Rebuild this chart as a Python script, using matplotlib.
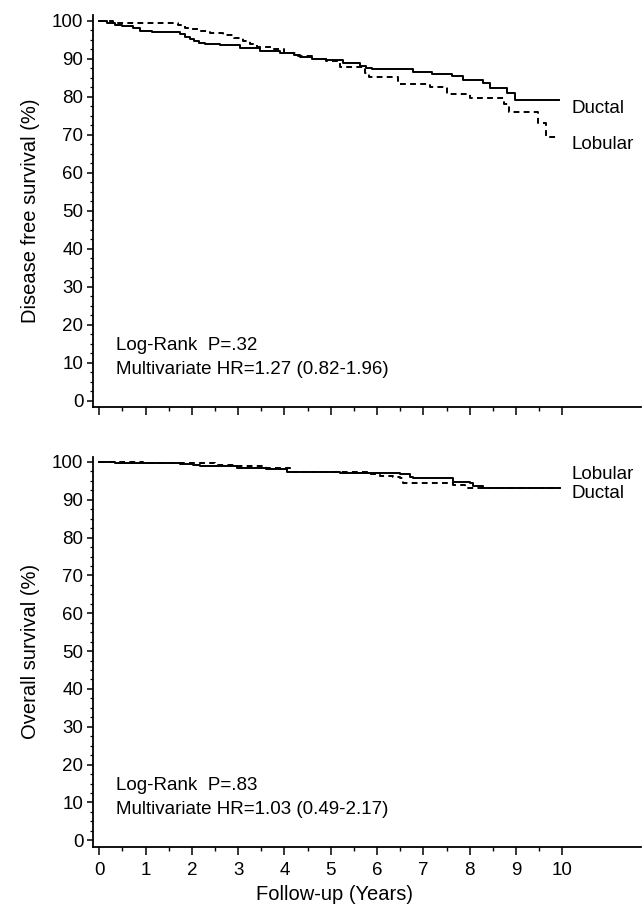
import matplotlib
matplotlib.use("Agg")
import matplotlib.pyplot as plt
from matplotlib.ticker import MultipleLocator

plt.rcParams['font.family'] = ['Liberation Sans', 'DejaVu Sans']

# ---- Data ----
dfs_ductal_t = [0, 0.16, 0.34, 0.5, 0.73, 0.88, 1.13, 1.74, 1.85, 1.95, 2.05, 2.15, 2.28, 2.6,
                3.04, 3.47, 3.9, 4.2, 4.34, 4.6, 4.9, 5.27, 5.64, 5.75, 5.9, 6.78, 7.18, 7.61,
                7.86, 8.28, 8.44, 8.81, 8.98, 9.93]
dfs_ductal_s = [100, 99.5, 99.0, 98.6, 98.0, 97.3, 96.9, 96.5, 95.8, 95.2, 94.6, 94.2, 94.0, 93.6,
                92.9, 92.0, 91.4, 91.0, 90.5, 90.0, 89.6, 88.8, 88.0, 87.5, 87.2, 86.6, 85.9, 85.5,
                84.4, 83.5, 82.2, 80.9, 79.1, 79.1]

dfs_lobular_t = [0, 0.3, 1.7, 1.85, 2.0, 2.17, 2.4, 2.68, 2.9, 3.1, 3.25, 3.4, 3.7, 4.0, 4.3,
                 4.6, 4.9, 5.2, 5.74, 5.83, 6.45, 7.14, 7.5, 8.0, 8.74, 8.85, 9.48, 9.64, 9.91]
dfs_lobular_s = [100, 99.3, 98.8, 98.2, 97.8, 97.3, 96.8, 96.2, 95.4, 94.6, 94.0, 93.2, 92.6, 91.6, 90.8,
                 90.0, 89.4, 87.7, 86.3, 85.3, 83.4, 82.6, 80.7, 79.6, 78.1, 76.1, 73.2, 69.5, 69.5]

os_ductal_t = [0, 0.34, 1.74, 2.03, 2.17, 2.97, 3.61, 4.05, 5.2, 5.91, 6.49, 6.7, 6.78, 7.64,
               8.0, 8.07, 8.29, 9.95]
os_ductal_s = [100, 99.6, 99.5, 99.2, 98.8, 98.5, 98.2, 97.4, 97.2, 97.0, 96.7, 96.1, 95.7, 94.8,
               94.4, 93.7, 93.2, 93.2]

os_lobular_t = [0, 0.94, 2.03, 2.5, 2.97, 3.61, 4.12, 4.15, 5.85, 6.06, 6.34, 6.49, 6.56, 7.64,
                7.9, 9.95]
os_lobular_s = [100, 99.8, 99.6, 99.3, 99.0, 98.5, 98.2, 97.3, 96.7, 96.4, 96.1, 95.8, 94.4, 94.0,
                93.2, 93.2]

x_ticks = list(range(0, 11))
y_ticks = list(range(0, 101, 10))

top_texts = ["Log-Rank  P=.32", "Multivariate HR=1.27 (0.82-1.96)"]
bot_texts = ["Log-Rank  P=.83", "Multivariate HR=1.03 (0.49-2.17)"]

W, H = 644, 908
fig = plt.figure(figsize=(W / 100, H / 100), dpi=100)

AX_L, AX_R = 93, 641


def add_ax(left, top, right, bottom):
    return fig.add_axes([left / W, 1 - bottom / H, (right - left) / W, (bottom - top) / H])


def style(ax, labels_on):
    ax.set_xlim(-0.136, 11.7)
    for s in ['top', 'right']:
        ax.spines[s].set_visible(False)
    for s in ['left', 'bottom']:
        ax.spines[s].set_linewidth(1.3)
    ax.set_xticks(x_ticks)
    ax.set_xticks([i + 0.5 for i in range(0, 10)], minor=True)
    ax.set_yticks(y_ticks)
    ax.yaxis.set_minor_locator(MultipleLocator(2.5))
    ax.tick_params(axis='x', which='major', direction='out', length=6, width=1.1, pad=5)
    ax.tick_params(axis='x', which='minor', direction='out', length=3, width=1.0)
    ax.tick_params(axis='y', which='major', direction='out', length=4, width=1.1, pad=3)
    ax.tick_params(axis='y', which='minor', direction='out', length=2, width=0.9)
    ax.tick_params(labelsize=13.5)
    if not labels_on:
        ax.set_xticklabels([])


dash = (0, (3.0, 2.2))
LW = 1.4
FS_TXT = 13.5

# Top panel: DFS
ax1 = add_ax(AX_L, 15, AX_R, 407)
ax1.set_ylim(-1.58, 101.5)
style(ax1, False)
ax1.step(dfs_ductal_t, dfs_ductal_s, where='post', color='black', lw=LW)
ax1.step(dfs_lobular_t, dfs_lobular_s, where='post', color='black', lw=LW, linestyle=dash)
ax1.text(10.2, 77.0, "Ductal", fontsize=FS_TXT, va='center', ha='left')
ax1.text(10.2, 67.4, "Lobular", fontsize=FS_TXT, va='center', ha='left')
ax1.text(0.36, 14.7, top_texts[0], fontsize=FS_TXT, va='center', ha='left')
ax1.text(0.36, 8.3, top_texts[1], fontsize=FS_TXT, va='center', ha='left')
ax1.set_ylabel("Disease free survival (%)", fontsize=14.5)

# Bottom panel: OS
ax2 = add_ax(AX_L, 457, AX_R, 846.7)
ax2.set_ylim(-1.69, 101.3)
style(ax2, True)
ax2.step(os_ductal_t, os_ductal_s, where='post', color='black', lw=LW)
ax2.step(os_lobular_t, os_lobular_s, where='post', color='black', lw=LW, linestyle=dash)
ax2.text(10.2, 96.6, "Lobular", fontsize=FS_TXT, va='center', ha='left')
ax2.text(10.2, 91.7, "Ductal", fontsize=FS_TXT, va='center', ha='left')
ax2.text(0.36, 14.6, bot_texts[0], fontsize=FS_TXT, va='center', ha='left')
ax2.text(0.36, 8.2, bot_texts[1], fontsize=FS_TXT, va='center', ha='left')
ax2.set_ylabel("Overall survival (%)", fontsize=14.5)
ax2.set_xlabel("Follow-up (Years)", fontsize=14.5)

for ax in (ax1, ax2):
    ax.yaxis.set_label_coords((40 - AX_L) / (AX_R - AX_L), 0.5)
ax2.xaxis.set_label_coords((335 - AX_L) / (AX_R - AX_L), -(885 - 846.7) / (846.7 - 457))

fig.savefig("out.png", dpi=100)
